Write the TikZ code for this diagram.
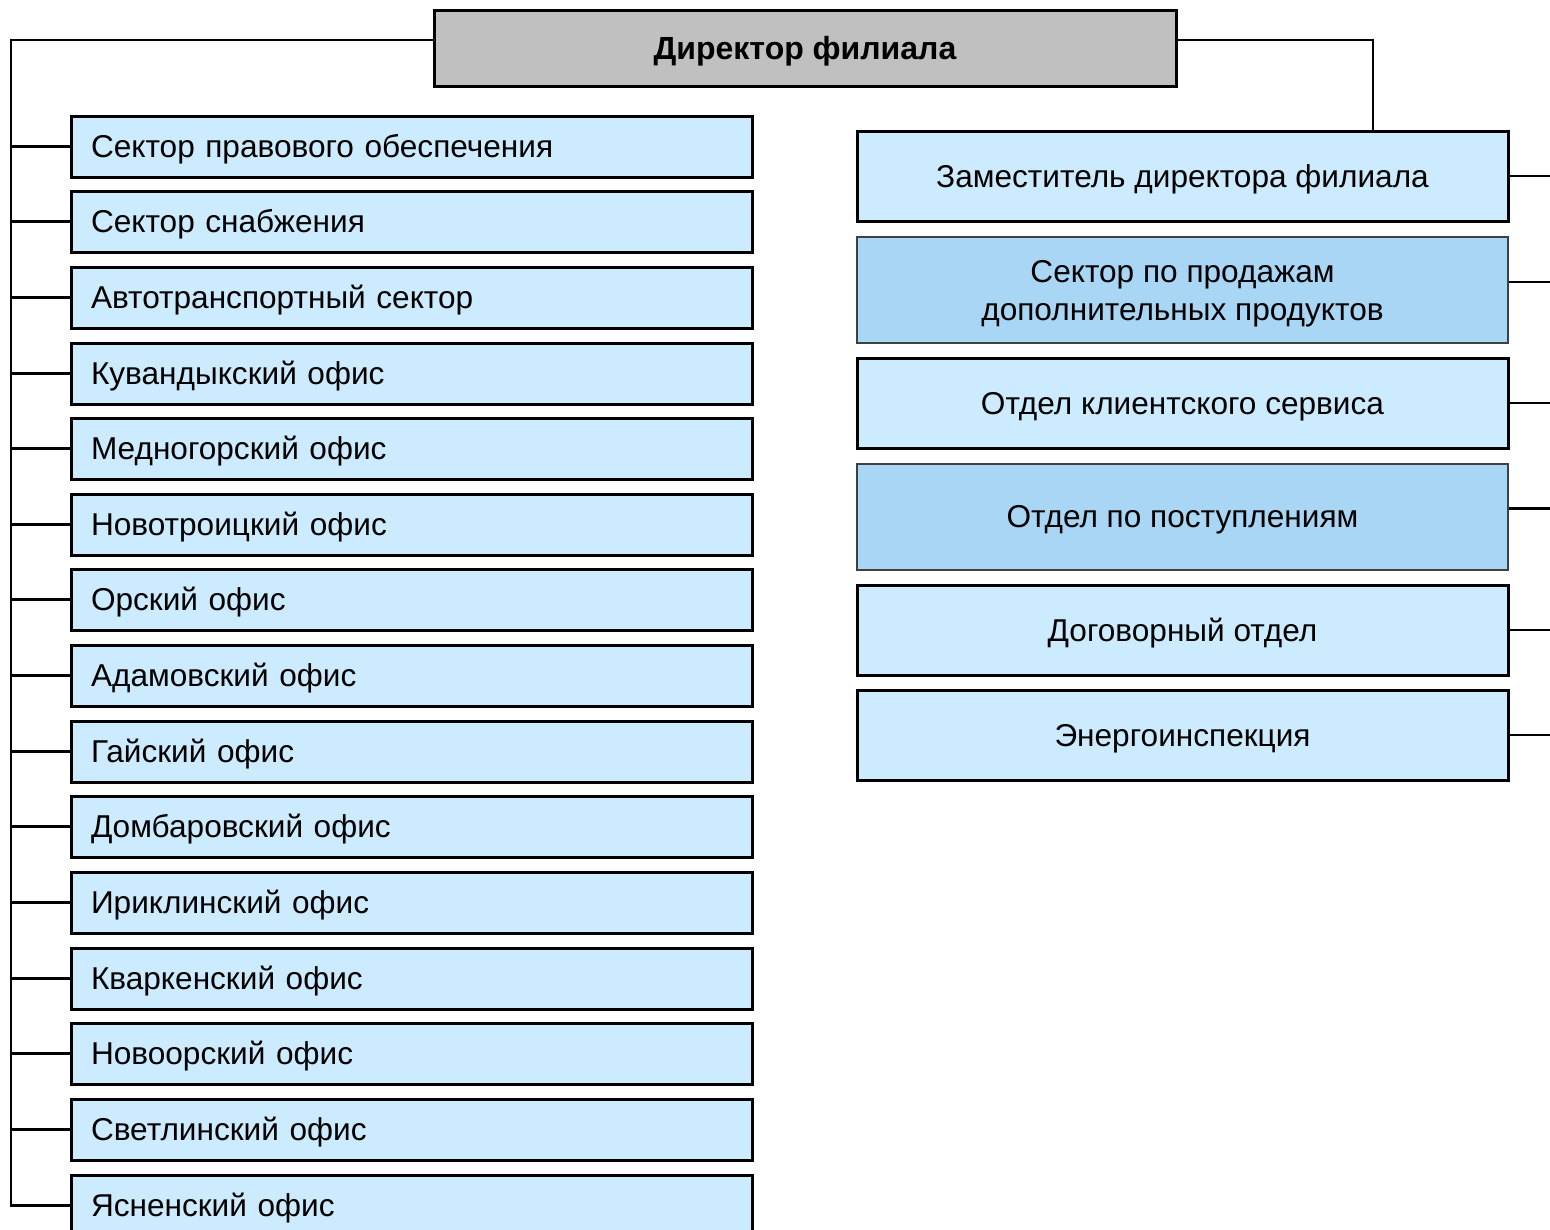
\documentclass[tikz,border=0pt]{standalone}
\usepackage{fontspec}
\setmainfont{Liberation Sans}
\definecolor{lightbox}{HTML}{CCEBFE}
\definecolor{darkbox}{HTML}{A9D6F4}
\definecolor{dirgray}{HTML}{C0C0C0}
\begin{document}
\begin{tikzpicture}[x=1pt,y=-1pt,
  every node/.style={font=\fontsize{31.6}{38}\selectfont, inner sep=0pt},
  oneline/.style={text height=22.6pt, text depth=0pt},
  dirbox/.style={draw=black, line width=3pt, fill=dirgray, minimum width=742, minimum height=76, font=\fontsize{32}{38}\selectfont\bfseries, text height=22.9pt, text depth=0pt},
  leftbox/.style={draw=black, line width=3pt, fill=lightbox, text width=641, inner xsep=20, minimum height=61, align=left, oneline},
  rightbox/.style={draw=black, line width=3pt, fill=lightbox, minimum width=651, align=center},
  rightdark/.style={rightbox, fill=darkbox, draw=black!75, line width=2pt},
  conn/.style={line width=2.5pt}
]
\clip (0,0) rectangle (1550,1229);
\fill[white] (0,0) rectangle (1550,1229);

\node[dirbox] (dir) at (805,48) {Директор филиала};

\coordinate (trunk) at (11,40);
\coordinate (redge) at (1550,0);
\coordinate (dturn) at (1373,40);

\foreach \i/\t/\txt in {1/116/Сектор правового обеспечения,
  2/191/Сектор снабжения,
  3/267/Автотранспортный сектор,
  4/343/Кувандыкский офис,
  5/418/Медногорский офис,
  6/494/Новотроицкий офис,
  7/569/Орский офис,
  8/645/Адамовский офис,
  9/721/Гайский офис,
  10/796/Домбаровский офис,
  11/872/Ириклинский офис,
  12/948/Кваркенский офис,
  13/1023/Новоорский офис,
  14/1099/Светлинский офис,
  15/1175/Ясненский офис}{
  \node[leftbox] (L\i) at (411.5,\t+30.5) {\txt};
}

\node[rightbox, oneline, minimum height=90] (R1) at (1182.5,176) {Заместитель директора филиала};
\node[rightdark, minimum height=106, text height=60.6pt, text depth=0pt] (R2) at (1182.5,290) {Сектор по продажам\\дополнительных продуктов};
\node[rightbox, oneline, minimum height=90] (R3) at (1182.5,403) {Отдел клиентского сервиса};
\node[rightdark, oneline, minimum height=106] (R4) at (1182.5,516.5) {Отдел по поступлениям};
\node[rightbox, oneline, minimum height=90] (R5) at (1182.5,630) {Договорный отдел};
\node[rightbox, oneline, minimum height=90] (R6) at (1182.5,735) {Энергоинспекция};

% left trunk
\draw[conn] (dir.west |- trunk) -- (trunk) -- (trunk |- L15.west) -- (L15.west);
\foreach \i in {1,...,14}{
  \draw[conn] (trunk |- L\i.west) -- (L\i.west);
}
% deputy
\draw[conn] (dir.east |- dturn) -- (dturn) -- (dturn |- R1.north);
% right stubs
\draw[conn] (R1.east) -- (R1.east -| redge);
\draw[conn] ([yshift=8pt]R2.east) -- ([yshift=8pt]R2.east -| redge);
\draw[conn] (R3.east) -- (R3.east -| redge);
\draw[conn] ([yshift=8pt]R4.east) -- ([yshift=8pt]R4.east -| redge);
\draw[conn] (R5.east) -- (R5.east -| redge);
\draw[conn] (R6.east) -- (R6.east -| redge);
\end{tikzpicture}
\end{document}
